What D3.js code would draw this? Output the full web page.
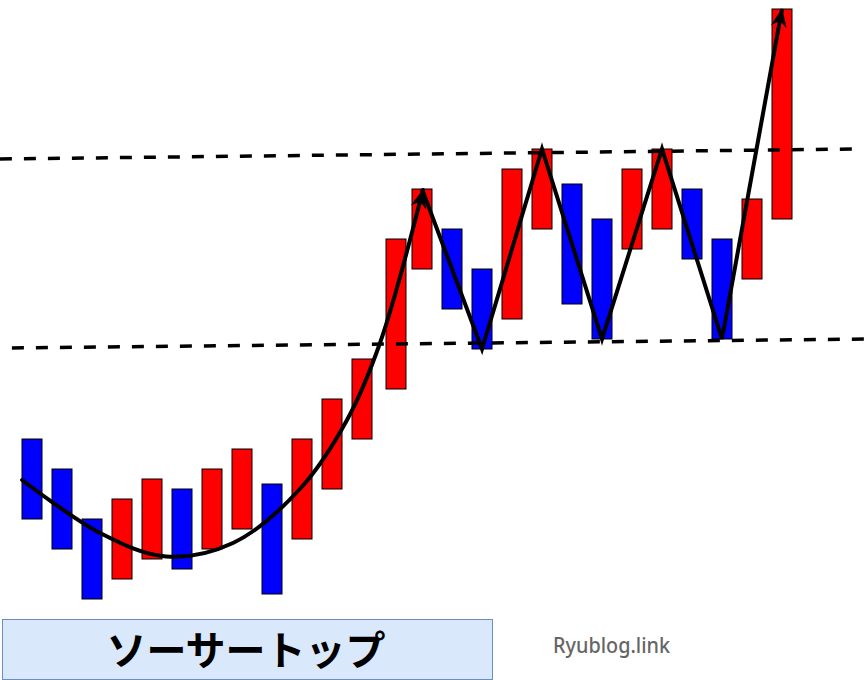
<!DOCTYPE html>
<html><head><meta charset="utf-8">
<script src="https://cdn.jsdelivr.net/npm/d3@7/dist/d3.min.js"></script>
<style>html,body{margin:0;padding:0;background:#fff;}svg{display:block;}</style>
</head><body>
<script>
// Candles: index, open, close (price units)
const opens  = [17,14,9,3,5,12,6,8,12.5,7,12,17,22,34,38,34,29,38,42.5,39,36,38,42,37,33,39];
const closes = [9,6,1,11,13,4,14,16,1.5,17,21,25,37,42,30,26,44,46,30.5,27,44,46,35,27,41,60];
// Support / resistance lines (index, price)
const upperLine = [{i:-1.07, v:45.0},{i:27.45, v:46.0}];
const lowerLine = [{i:-0.67, v:26.1},{i:27.77, v:27.0}];
// Rounding-bottom curve (index, price)
const saucerCurve = [
  {i:-0.33,v:12.9},{i:2.27,v:7.6},{i:4.47,v:5.25},{i:6.7,v:6.6},{i:8.93,v:12.0},
  {i:10.5,v:18.9},{i:11.6,v:26.6},{i:13.03,v:41.9}
];
// Zigzag (index, price)
const zigzag = [{i:13,v:42},{i:15,v:26},{i:17,v:46},{i:19,v:27},{i:21,v:46},{i:23,v:27},{i:25,v:60}];
const titleText = "ソーサートップ";
const siteText = "Ryublog.link";

const W = 865, H = 680;
const svg = d3.select("body").append("svg").attr("width", W).attr("height", H);

const x = d3.scaleLinear().domain([0, 1]).range([32, 62]);   // candle centre per index
const y = d3.scaleLinear().domain([0, 60]).range([609, 9]);
const bw = 20;

svg.append("defs").append("marker")
  .attr("id","arrow").attr("viewBox","-20 -10 22 20")
  .attr("refX",0).attr("refY",0)
  .attr("markerWidth",22).attr("markerHeight",20)
  .attr("markerUnits","userSpaceOnUse").attr("orient","auto")
  .append("path").attr("d","M1,0 L-18,-8 L-12,0 L-18,8 Z").attr("fill","#000");

const candles = opens.map((o,k)=>({k, o, c: closes[k]}));
svg.append("g").selectAll("rect").data(candles).join("rect")
  .attr("x", d => x(d.k) - bw/2 + (d.k===12 ? 4 : 0))
  .attr("y", d => y(Math.max(d.o,d.c)))
  .attr("width", bw)
  .attr("height", d => y(Math.min(d.o,d.c)) - y(Math.max(d.o,d.c)))
  .attr("fill", d => d.c > d.o ? "#ff0000" : "#0000ff")
  .attr("stroke","#000").attr("stroke-width",1);

const line = d3.line().x(d=>x(d.i)).y(d=>y(d.v));
[upperLine, lowerLine].forEach(L=>{
  svg.append("path").attr("d", line(L)).attr("fill","none")
    .attr("stroke","#000").attr("stroke-width",3.5).attr("stroke-dasharray","12,12");
});

svg.append("path").attr("d", d3.line().x(d=>x(d.i)).y(d=>y(d.v)).curve(d3.curveCatmullRom.alpha(0.5))(saucerCurve))
  .attr("fill","none").attr("stroke","#000").attr("stroke-width",4)
  .attr("stroke-linecap","round").attr("marker-end","url(#arrow)");

svg.append("path").attr("d", line(zigzag))
  .attr("fill","none").attr("stroke","#000").attr("stroke-width",4)
  .attr("stroke-linejoin","miter").attr("marker-end","url(#arrow)");

// Label box
svg.append("rect").attr("x",2.5).attr("y",619.5).attr("width",490).attr("height",60)
  .attr("fill","#dae8fc").attr("stroke","#6c8ebf").attr("stroke-width",1);
svg.append("text").attr("x",246).attr("y",665)
  .attr("text-anchor","middle").attr("font-family","'Noto Sans CJK JP'")
  .attr("font-size",40).attr("font-weight","bold").attr("fill","#000").text(titleText);

svg.append("text").attr("x",553).attr("y",653)
  .attr("font-family","'Noto Sans'").attr("font-size",22).attr("font-weight","500")
  .attr("fill","#666").attr("textLength",117).attr("lengthAdjust","spacingAndGlyphs").text(siteText);
</script>
</body></html>
